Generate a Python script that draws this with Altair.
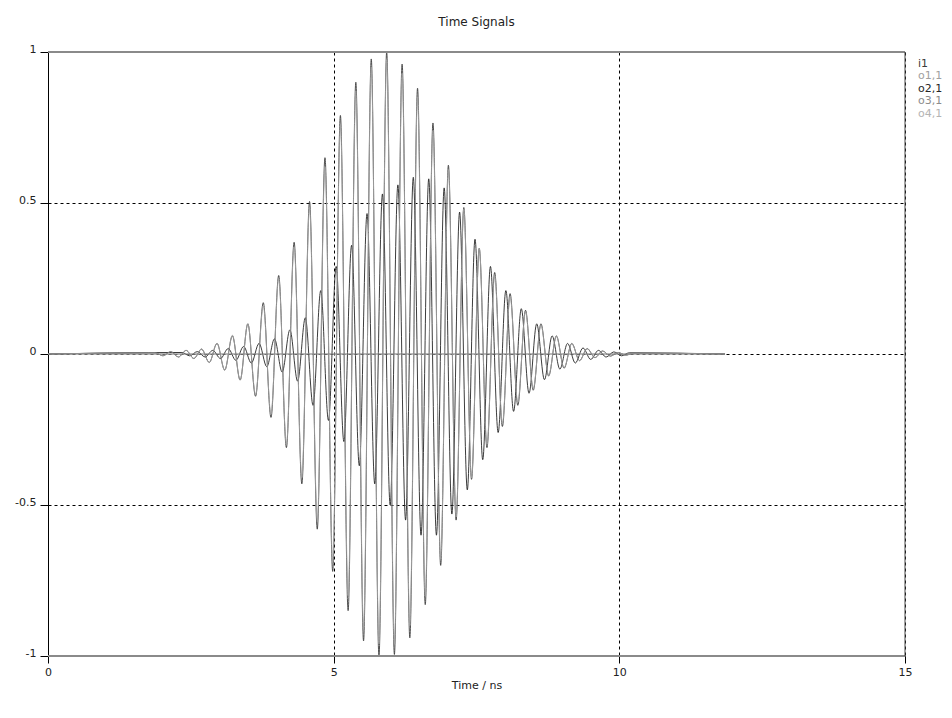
import altair as alt
import pandas as pd

SERIES = ["i1", "o1,1", "o2,1", "o3,1", "o4,1"]
COLORS = ["#3c3c3c", "#a0a0a0", "#262626", "#8c8c8c", "#b4b4b4"]

START_T = 0.0
END_T = 11.85

# extrema times (ns) of the leading pulse
S1_T = [1.878, 2.013, 2.148, 2.283, 2.418, 2.553, 2.688, 2.823, 2.958, 3.093,
        3.228, 3.363, 3.498, 3.633, 3.768, 3.903, 4.038, 4.173, 4.308, 4.443,
        4.578, 4.713, 4.848, 4.983, 5.118, 5.253, 5.388, 5.523, 5.658, 5.793,
        5.928, 6.063, 6.198, 6.333, 6.468, 6.603, 6.738, 6.873, 7.008, 7.143,
        7.278, 7.413, 7.548, 7.683, 7.818, 7.953, 8.088, 8.223, 8.358, 8.493,
        8.628, 8.763, 8.898, 9.033, 9.168, 9.303, 9.438, 9.573, 9.708, 9.843,
        9.978, 10.113, 10.248]

I1_V = [0.004, -0.006, 0.008, -0.010, 0.012, -0.015, 0.016, -0.028, 0.035, -0.053,
        0.060, -0.086, 0.100, -0.140, 0.170, -0.210, 0.260, -0.310, 0.370, -0.430,
        0.505, -0.580, 0.650, -0.720, 0.790, -0.850, 0.900, -0.950, 0.977, -1.000,
        1.000, -0.995, 0.960, -0.940, 0.880, -0.830, 0.765, -0.700, 0.625, -0.550,
        0.485, -0.415, 0.350, -0.310, 0.270, -0.240, 0.200, -0.170, 0.145, -0.120,
        0.100, -0.073, 0.060, -0.047, 0.035, -0.022, 0.018, -0.012, 0.010, -0.007,
        0.005, -0.004, 0.003]

O11_V = [0.004, -0.006, 0.008, -0.010, 0.012, -0.015, 0.017, -0.028, 0.036, -0.054,
         0.062, -0.087, 0.100, -0.135, 0.160, -0.200, 0.250, -0.300, 0.355, -0.410,
         0.485, -0.555, 0.620, -0.690, 0.760, -0.800, 0.870, -0.910, 0.950, -0.960,
         0.975, -0.960, 0.930, -0.900, 0.850, -0.800, 0.740, -0.680, 0.610, -0.540,
         0.480, -0.410, 0.350, -0.300, 0.260, -0.230, 0.190, -0.160, 0.140, -0.115,
         0.095, -0.070, 0.058, -0.045, 0.034, -0.022, 0.017, -0.012, 0.010, -0.007,
         0.005, -0.004, 0.003]

# extrema times (ns) of the lagging pulse
S2_T = [2.344, 2.479, 2.614, 2.749, 2.884, 3.019, 3.154, 3.289, 3.424, 3.559,
        3.694, 3.829, 3.964, 4.099, 4.234, 4.369, 4.504, 4.639, 4.774, 4.909,
        5.044, 5.179, 5.314, 5.449, 5.584, 5.719, 5.854, 5.989, 6.124, 6.259,
        6.394, 6.529, 6.664, 6.799, 6.934, 7.069, 7.204, 7.339, 7.474, 7.609,
        7.744, 7.879, 8.014, 8.149, 8.284, 8.419, 8.554, 8.689, 8.824, 8.959,
        9.094, 9.229, 9.364, 9.499, 9.634, 9.769, 9.904, 10.039, 10.174]

O21_V = [0.005, -0.006, 0.008, -0.010, 0.012, -0.015, 0.018, -0.021, 0.025, -0.030,
         0.035, -0.042, 0.050, -0.060, 0.080, -0.090, 0.120, -0.170, 0.210, -0.220,
         0.290, -0.290, 0.360, -0.370, 0.465, -0.430, 0.530, -0.500, 0.560, -0.550,
         0.585, -0.600, 0.580, -0.600, 0.550, -0.530, 0.470, -0.450, 0.380, -0.350,
         0.290, -0.260, 0.210, -0.190, 0.150, -0.130, 0.100, -0.085, 0.060, -0.050,
         0.035, -0.030, 0.020, -0.018, 0.012, -0.010, 0.007, -0.006, 0.004]

FLAT_T = [START_T, END_T]
FLAT_V = [0.0, 0.0]

X_TICKS = [0, 5, 10, 15]
Y_TICKS = [-1, -0.5, 0, 0.5, 1]

FONT = "DejaVu Sans"


def series_frame(name, ts, vs):
    ts = [START_T] + list(ts) + [END_T]
    vs = [0.0] + list(vs) + [0.0]
    return pd.DataFrame({"t": ts, "v": vs, "series": name})


df = pd.concat([
    series_frame("i1", S1_T, I1_V),
    series_frame("o1,1", S1_T, O11_V),
    series_frame("o2,1", S2_T, O21_V),
    pd.DataFrame({"t": FLAT_T, "v": FLAT_V, "series": "o3,1"}),
    pd.DataFrame({"t": FLAT_T, "v": FLAT_V, "series": "o4,1"}),
], ignore_index=True)

x_enc = alt.X("t:Q",
              scale=alt.Scale(domain=[0, 15], nice=False, zero=False),
              axis=alt.Axis(values=X_TICKS, title="Time / ns", labelFlush=False,
                            labelExpr="'' + datum.value",
                            grid=True, gridColor="#000000", gridDash=[3, 3],
                            gridWidth=1, domainColor="#000000", tickColor="#000000",
                            tickSize=7, labelPadding=3, titlePadding=2,
                            labelFont=FONT, labelFontSize=11, labelColor="#222222",
                            titleFont=FONT, titleFontSize=11, titleFontWeight="normal",
                            titleColor="#222222"))
y_enc = alt.Y("v:Q",
              scale=alt.Scale(domain=[-1, 1], nice=False, zero=False),
              axis=alt.Axis(values=Y_TICKS, title=None, labelFlush=False,
                            labelExpr="'' + datum.value", labelOffset=-3,
                            grid=True, gridColor="#000000", gridDash=[3, 3],
                            gridWidth=1, domainColor="#000000", tickColor="#000000",
                            tickSize=8, labelPadding=4,
                            labelFont=FONT, labelFontSize=11, labelColor="#222222"))
c_enc = alt.Color("series:N",
                  scale=alt.Scale(domain=SERIES, range=COLORS),
                  legend=alt.Legend(orient="none", legendX=859, legendY=6, title=None,
                                    symbolSize=0, symbolOpacity=0, symbolStrokeWidth=0,
                                    labelOffset=0, rowPadding=0.5,
                                    labelFont=FONT, labelFontSize=11,
                                    labelColor={"expr": "scale('color', datum.value)"}))

base = alt.Chart(df)
draw_order = ["o4,1", "i1", "o2,1", "o1,1", "o3,1"]
layers = []
for s in draw_order:
    layers.append(
        base.transform_filter(alt.datum.series == s)
        .mark_line(strokeWidth=0.9, interpolate="monotone")
        .encode(x=x_enc, y=y_enc, color=c_enc)
    )

hborder = alt.Chart(pd.DataFrame({"v": [1, -1]})).mark_rule(
    color="#8a8a8a", strokeWidth=2).encode(y="v:Q")
vborder = alt.Chart(pd.DataFrame({"t": [15]})).mark_rule(
    color="#444444", strokeWidth=1).encode(x="t:Q")

chart = alt.layer(*layers, hborder, vborder).properties(
    width=857, height=604,
    autosize="none",
    padding={"left": 40, "top": 44, "right": 39, "bottom": 54},
    title=alt.TitleParams("Time Signals", font=FONT, fontSize=12,
                          fontWeight="normal", color="#222222", offset=14,
                          anchor="middle"),
).configure_view(stroke=None)

chart.save("out.html", embed_options={"renderer": "svg", "actions": False})
